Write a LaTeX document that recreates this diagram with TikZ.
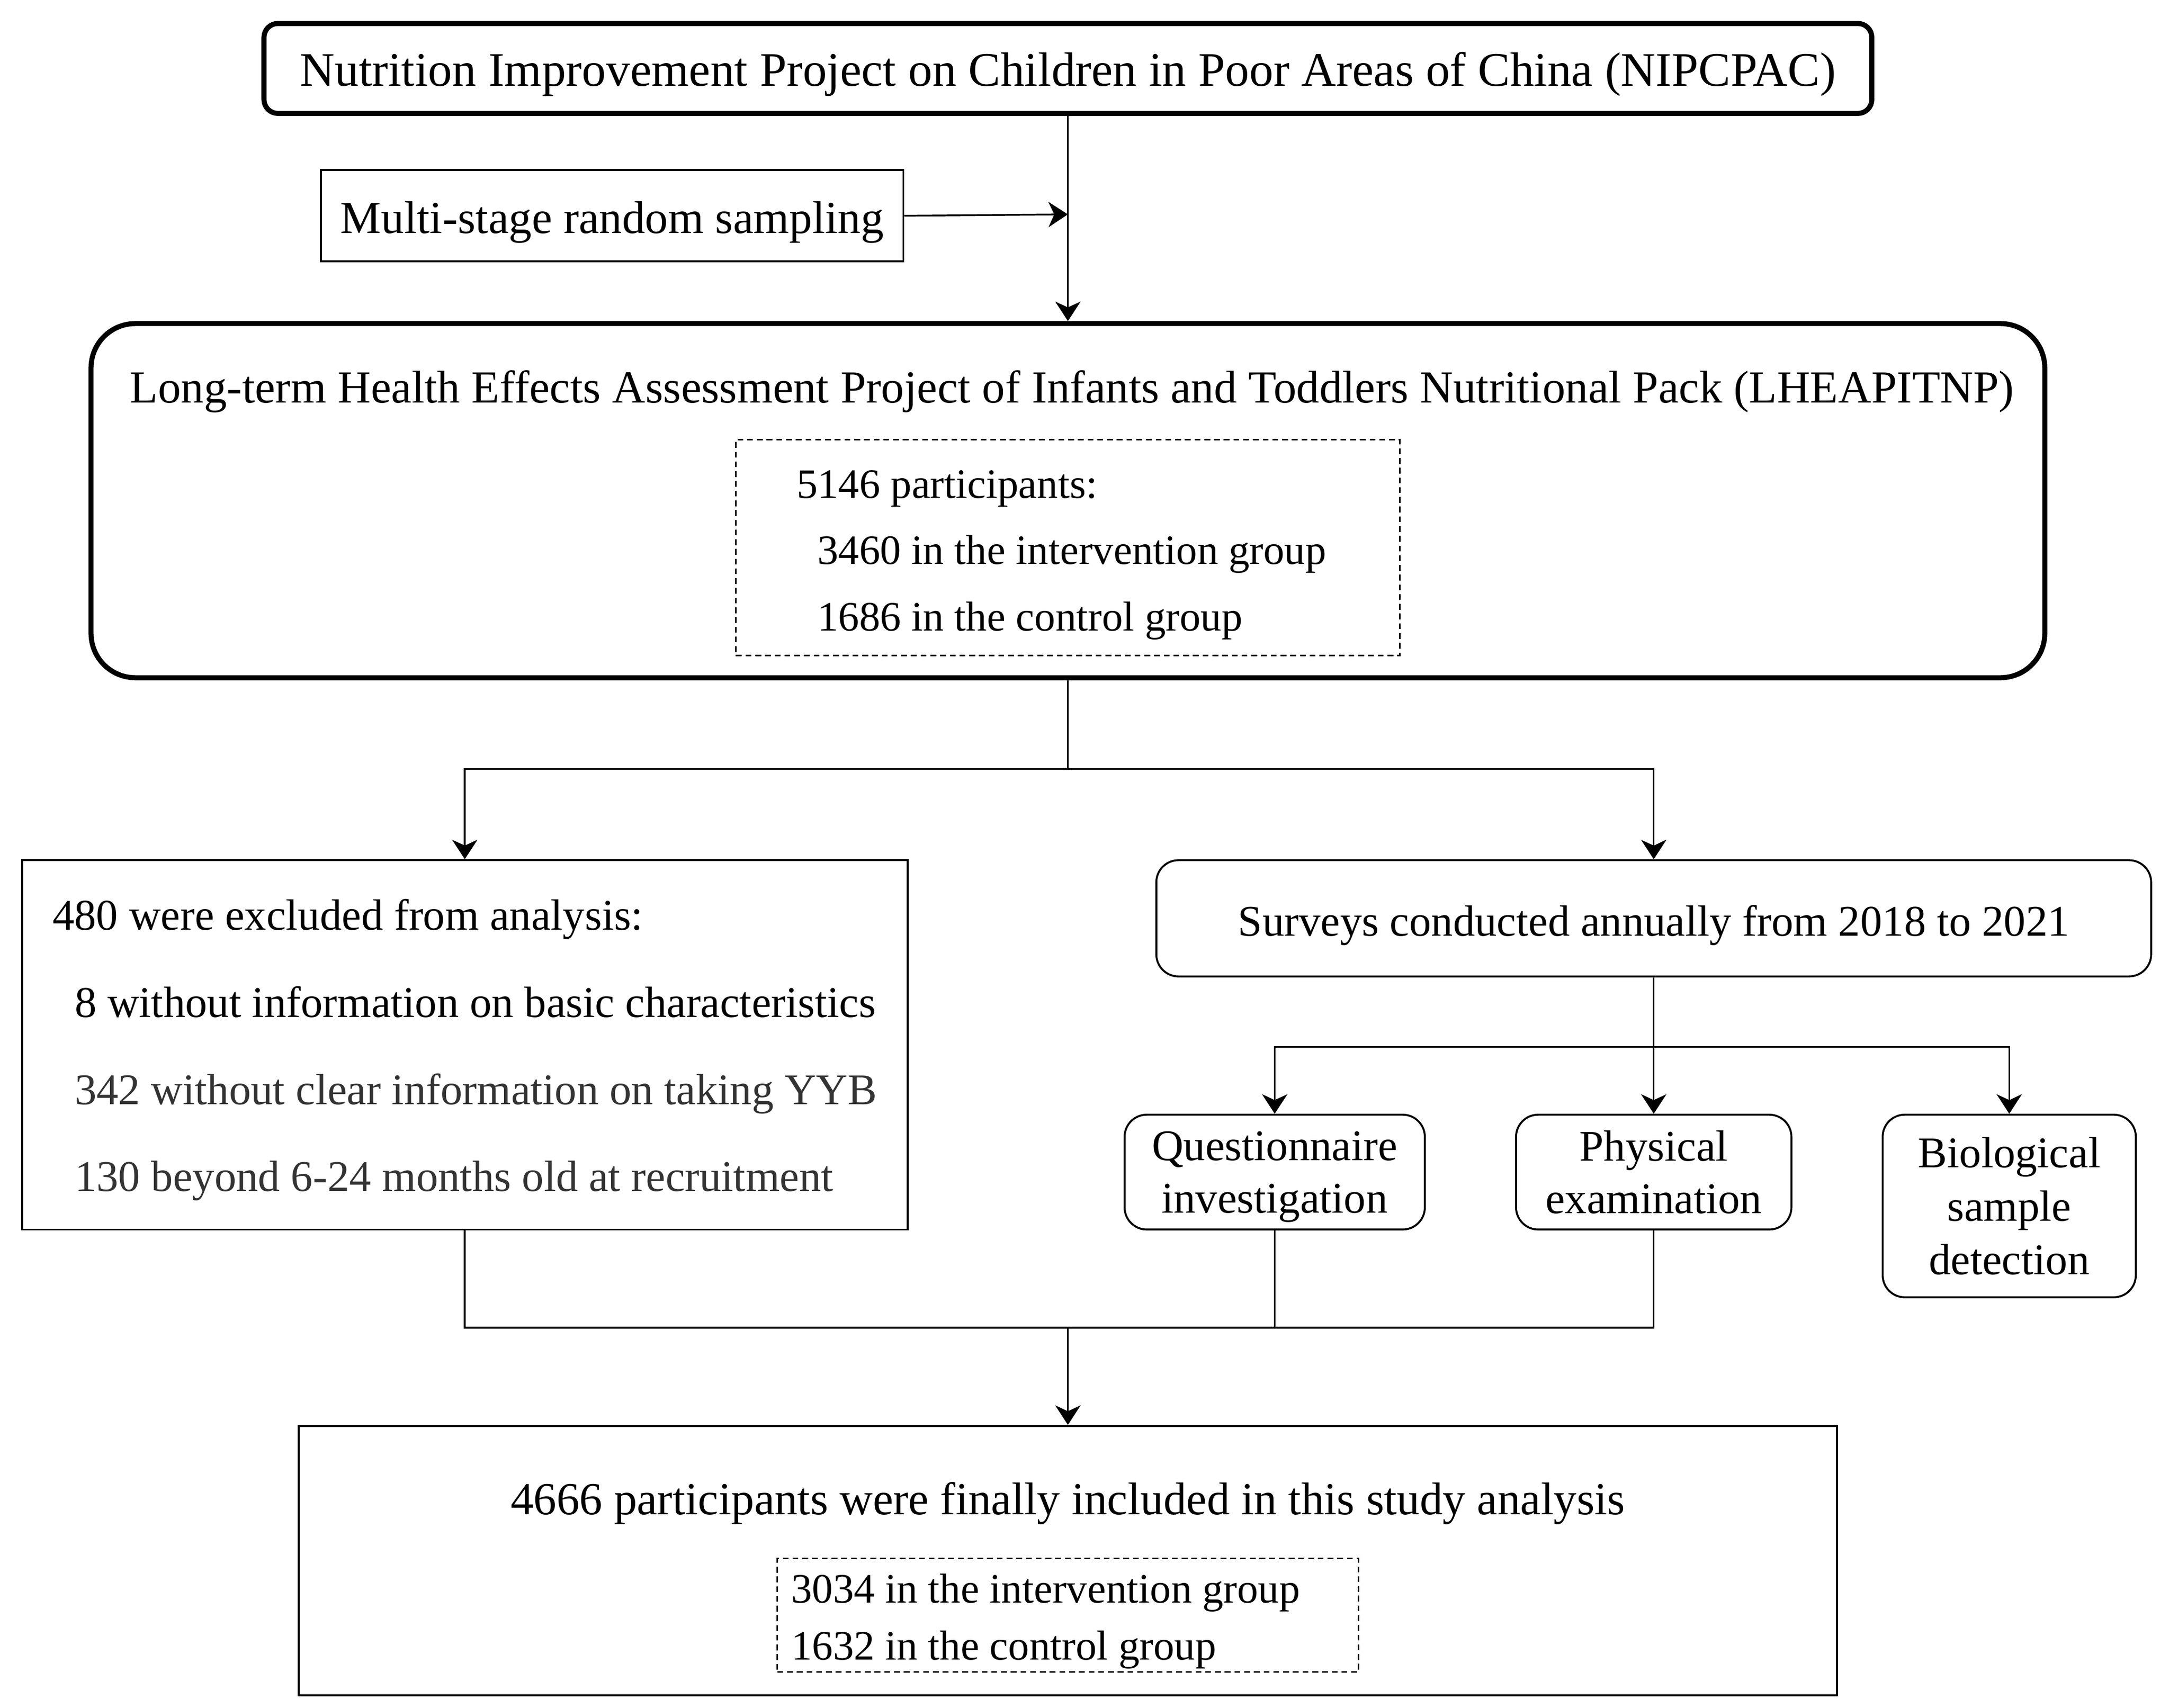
\documentclass[tikz,border=0pt]{standalone}
\usepackage{fontspec}
\setmainfont{Liberation Serif}
\usepackage{tikz}
\usetikzlibrary{arrows, positioning, shapes}
\usetikzlibrary{arrows.meta}

\begin{document}
\begin{tikzpicture}[
	x=0.025cm,
	y=-0.025cm,
	>={Stealth[length=10pt,width=13pt,inset=3pt]},
	line width=0.9pt,
	font=\fontsize{23.6}{29}\selectfont,
	plain box/.style   = {draw, line width=1pt, inner sep=0pt},
	round box/.style   = {draw, rounded corners=0.4cm, line width=1pt, inner sep=0pt, align=flush center},
	main box/.style    = {draw, rounded corners=0.25cm, line width=2.6pt, inner sep=0pt},
	dash box/.style    = {draw, dashed, dash pattern=on 3pt off 2pt, line width=0.8pt, align=flush left, inner ysep=0pt},
	one line/.style    = {text height=23.2pt, text depth=5.2pt}
]

\useasboundingbox (0,0) rectangle (1568,1235);

 % top of the chart
 \node [main box, one line, font=\fontsize{24.75}{29}\selectfont, minimum width=29.05cm, minimum height=1.625cm] (nipc) at (772,49.5)
       {Nutrition Improvement Project on Children in Poor Areas of China (NIPCPAC)};
 \node [plain box, one line, minimum width=10.525cm, minimum height=1.65cm] (multi) at (442.5,156)
       {Multi-stage random sampling};
 \node [main box, rounded corners=0.8cm, minimum width=35.3cm, minimum height=6.4cm] (lheap) at (772,362) {};
 \node (lheaptitle) at (775,283)
       {Long-term Health Effects Assessment Project of Infants and Toddlers Nutritional Pack (LHEAPITNP)};
 \node [dash box, font=\fontsize{21.5}{34.2}\selectfont, text width=9.8cm, inner xsep=1.1cm,
        minimum height=3.9cm] (baseline) at (772,396)
       {\rule{0pt}{21.9pt}5146 participants:\\
        \hspace*{0.375cm}3460 in the intervention group\\
        \hspace*{0.375cm}1686 in the control group};

 % second level
 \node [plain box, align=flush left, font=\fontsize{22.5}{44.8}\selectfont,
        minimum width=16cm, minimum height=6.675cm] (excl) at (336,755.5)
       {\rule{0pt}{21.2pt}480 were excluded from analysis:\\
        \hspace*{0.4cm}8 without information on basic characteristics\\
        \hspace*{0.4cm}{\color[HTML]{333333}342 without clear information on taking YYB}\\
        \hspace*{0.4cm}{\color[HTML]{333333}130 beyond 6-24 months old at recruitment}};
 \node [round box, one line, font=\fontsize{22.5}{27}\selectfont, minimum width=17.975cm, minimum height=2.1cm] (survey) at (1195.5,664)
       {Surveys conducted annually from 2018 to 2021};

 \node [round box, font=\fontsize{22.5}{27}\selectfont, minimum width=5.425cm, minimum height=2.075cm] (quest) at (921.5,847.5)
       {\rule{0pt}{19.8pt}Questionnaire\\investigation};
 \node [round box, font=\fontsize{22.5}{27}\selectfont, minimum width=4.975cm, minimum height=2.075cm] (phys)  at (1195.5,847.5)
       {Physical\\examination};
 \node [round box, font=\fontsize{22.5}{27.4}\selectfont, minimum width=4.575cm, minimum height=3.3cm] (bio)   at (1452.5,872)
       {Biological\\sample\\detection};

 % result
 \node [plain box, minimum width=27.8cm, minimum height=4.875cm] (final) at (772,1128.5) {};
 \node (finaltitle) at (772,1087) {4666 participants were finally included in this study analysis};
 \node [dash box, font=\fontsize{21.5}{29.2}\selectfont, text width=10cm, inner xsep=0.25cm,
        minimum height=2.05cm] (finalgrp) at (772,1168)
       {\rule{0pt}{21.2pt}3034 in the intervention group\\
        1632 in the control group};

 % connectors
 \coordinate (join)   at (772,155);
 \coordinate (split)  at (772,556);
 \coordinate (fork)   at (1195.5,757);
 \coordinate (merge)  at (772,960);

 \draw [->] (nipc.south) -- (lheap.north);
 \draw [->] (multi.east) -- (join);
 \draw (lheap.south) -- (split);
 \draw [->] (split) -| (excl.north);
 \draw [->] (split) -| (survey.north);
 \draw [->] (survey.south) -- (phys.north);
 \draw [->] (fork) -| (quest.north);
 \draw [->] (fork) -| (bio.north);
 \draw (excl.south) |- (merge) -| (phys.south);
 \draw (quest.south) -- (quest.south |- merge);
 \draw [->] (merge) -- (final.north);

\end{tikzpicture}
\end{document}
